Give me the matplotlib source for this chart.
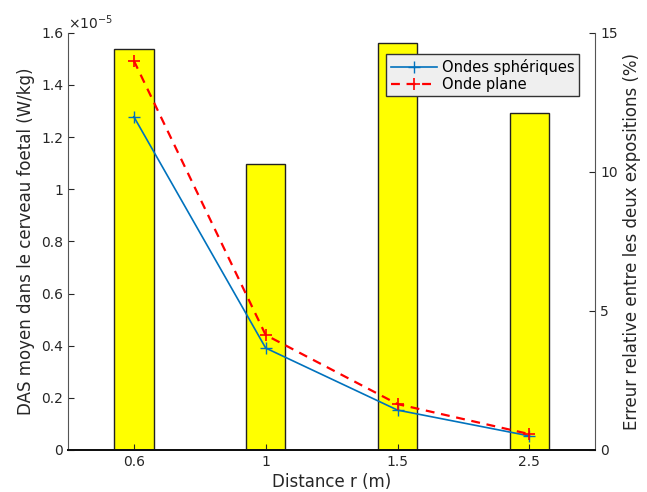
import matplotlib
matplotlib.use("Agg")
import matplotlib.pyplot as plt
from matplotlib.ticker import ScalarFormatter

distances = ["0.6", "1", "1.5", "2.5"]
das_spheriques = [1.278e-5, 0.391e-5, 0.153e-5, 0.054e-5]
das_plane = [1.493e-5, 0.441e-5, 0.176e-5, 0.061e-5]
erreur_relative = [14.42, 10.29, 14.64, 12.12]


class GFormatter(ScalarFormatter):
    def _set_format(self):
        self.format = '%g'


plt.rcParams['font.family'] = ['DejaVu Sans']
fig = plt.figure(figsize=(6.47, 4.92), dpi=100)
ax = fig.add_axes([0.105, 0.0854, 0.815, 0.848])
ax2 = ax.twinx()

x = list(range(1, len(distances) + 1))
ax2.bar(x, erreur_relative, width=0.3, color='#FFFF00', edgecolor='#222222', linewidth=1.0)
ax2.set_ylim(0, 15)
ax2.set_yticks([0, 5, 10, 15])
ax2.set_ylabel("Erreur relative entre les deux expositions (%)", fontsize=12, color='#262626')

ax.set_zorder(ax2.get_zorder() + 1)
ax.patch.set_visible(False)
ax.plot(x, das_spheriques, color='#0072BD', linewidth=1.2, marker='+', markersize=9,
        markeredgewidth=1.0, label='Ondes sphériques')
ax.plot(x, das_plane, color='red', linestyle='--', dashes=(4, 3), linewidth=1.6, marker='+',
        markersize=9, markeredgewidth=1.2, label='Onde plane')
ax.set_xlim(0.5, 4.5)
ax.set_ylim(0, 1.6e-5)
ax.set_yticks([i * 0.2e-5 for i in range(9)])
fmt = GFormatter(useMathText=True)
fmt.set_powerlimits((0, 0))
ax.yaxis.set_major_formatter(fmt)
ax.set_xticks(x)
ax.set_xticklabels(distances)
ax.set_xlabel("Distance r (m)", fontsize=12, color='#262626', labelpad=3)
ax.set_ylabel("DAS moyen dans le cerveau foetal (W/kg)", fontsize=12, color='#262626')

for a in (ax, ax2):
    a.tick_params(direction='in', labelsize=10, colors='#262626', length=4)
    a.spines['top'].set_visible(False)
    for s in ('left', 'right'):
        a.spines[s].set_color('#555555')
    a.spines['bottom'].set_color('#111111')
    a.spines['bottom'].set_linewidth(1.4)
ax2.spines['left'].set_visible(False)
ax.spines['right'].set_visible(False)
ax.yaxis.get_offset_text().set_fontsize(10)
ax.yaxis.get_offset_text().set_color('#262626')

leg = ax.legend(loc='upper right', bbox_to_anchor=(0.974, 0.955), fontsize=10.5,
                frameon=True, fancybox=False, borderpad=0.3, labelspacing=0.15,
                handlelength=3.2, handletextpad=0.3, borderaxespad=0.2)
leg.get_frame().set_facecolor('#EFEFEF')
leg.get_frame().set_edgecolor('#333333')
leg.get_frame().set_alpha(1)

fig.savefig("out.png", dpi=100)
